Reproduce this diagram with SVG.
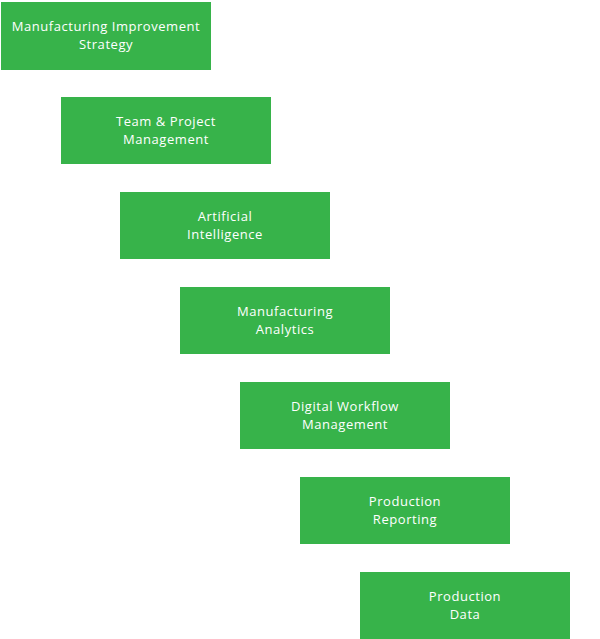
<svg xmlns="http://www.w3.org/2000/svg" width="600" height="639" viewBox="0 0 600 639">
<style>
.box{fill:#37b34a;}
.t{font-family:"Open Sans","Liberation Sans",sans-serif;font-size:13px;letter-spacing:0.55px;fill:#ffffff;text-anchor:middle;}
</style>
<rect width="600" height="639" fill="#ffffff"/>
<g id="connectors"></g>
<g id="n1"><rect class="box" x="1" y="2" width="210" height="68"/><text class="t" x="106" y="31">Manufacturing Improvement</text><text class="t" x="106" y="49">Strategy</text></g>
<g id="n2"><rect class="box" x="61" y="97" width="210" height="67"/><text class="t" x="166" y="126">Team &amp; Project</text><text class="t" x="166" y="144">Management</text></g>
<g id="n3"><rect class="box" x="120" y="192" width="210" height="67"/><text class="t" x="225" y="221">Artificial</text><text class="t" x="225" y="239">Intelligence</text></g>
<g id="n4"><rect class="box" x="180" y="287" width="210" height="67"/><text class="t" x="285" y="316">Manufacturing</text><text class="t" x="285" y="334">Analytics</text></g>
<g id="n5"><rect class="box" x="240" y="382" width="210" height="67"/><text class="t" x="345" y="411">Digital Workflow</text><text class="t" x="345" y="429">Management</text></g>
<g id="n6"><rect class="box" x="300" y="477" width="210" height="67"/><text class="t" x="405" y="506">Production</text><text class="t" x="405" y="524">Reporting</text></g>
<g id="n7"><rect class="box" x="360" y="572" width="210" height="67"/><text class="t" x="465" y="601">Production</text><text class="t" x="465" y="619">Data</text></g>
</svg>
